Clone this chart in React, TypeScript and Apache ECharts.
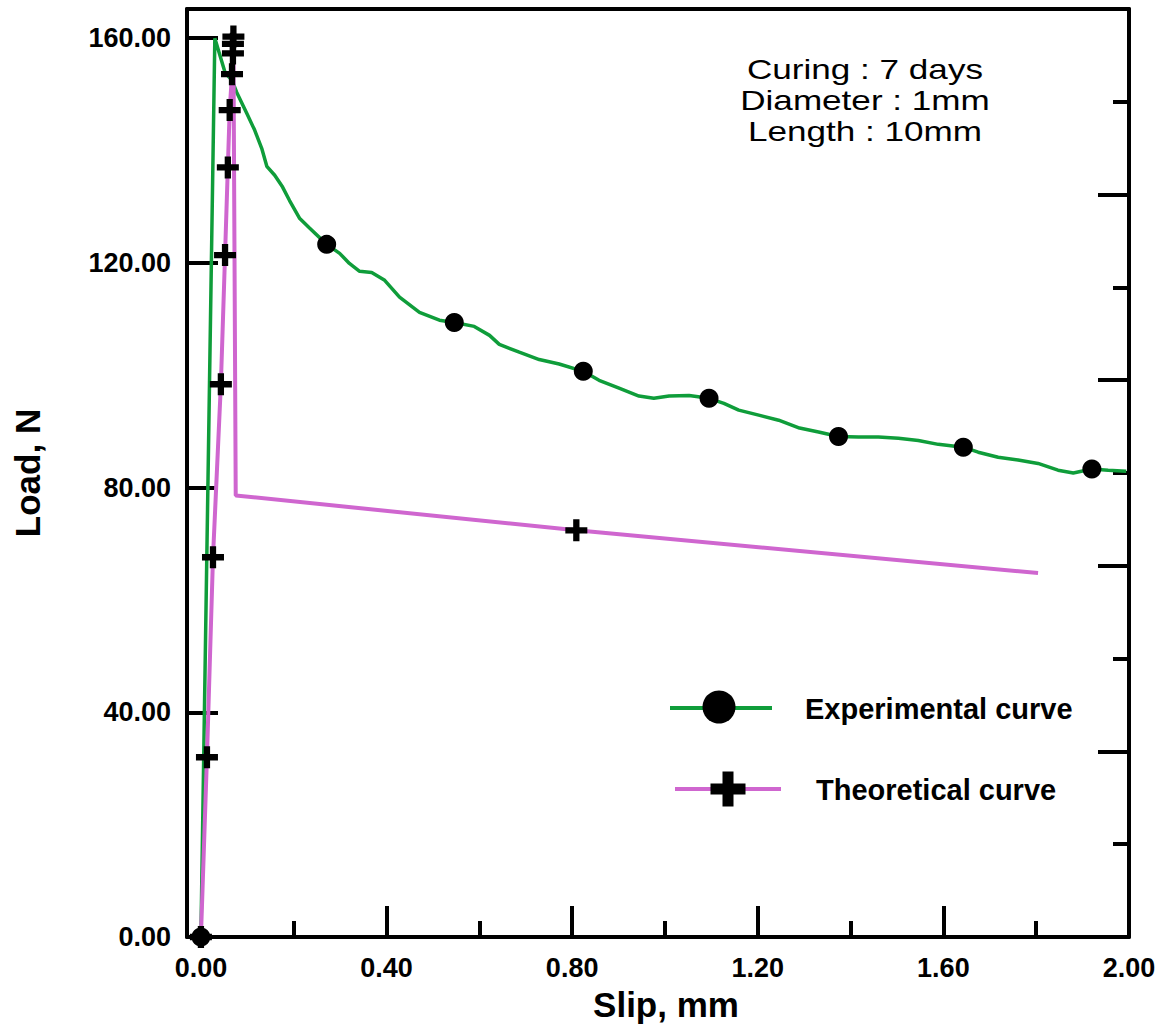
import React, { useEffect, useRef } from "react";
import * as echarts from "echarts";

// Experimental curve (slip mm, load N)
const expX = [0, 0.030, 0.052, 0.067, 0.077, 0.099, 0.116, 0.131, 0.142, 0.159, 0.176, 0.191, 0.213, 0.234, 0.271, 0.299, 0.320, 0.342, 0.368, 0.396, 0.428, 0.471, 0.514, 0.546, 0.589, 0.622, 0.643, 0.686, 0.729, 0.772, 0.824, 0.858, 0.901, 0.944, 0.976, 1.009, 1.052, 1.095, 1.127, 1.159, 1.202, 1.245, 1.290, 1.331, 1.374, 1.417, 1.460, 1.503, 1.546, 1.589, 1.643, 1.675, 1.718, 1.761, 1.804, 1.847, 1.880, 1.920, 1.955, 1.994];
const expY = [0, 160.0, 153.9, 152.5, 150.4, 146.6, 143.6, 140.4, 137.2, 135.6, 133.5, 131.1, 127.9, 126.2, 123.3, 121.7, 119.9, 118.5, 118.3, 116.9, 113.9, 111.2, 109.8, 109.4, 108.7, 107.1, 105.5, 104.1, 102.8, 102.0, 100.7, 99.1, 97.7, 96.3, 95.9, 96.3, 96.4, 95.9, 95.0, 93.8, 92.9, 92.0, 90.6, 89.9, 89.1, 89.0, 89.0, 88.8, 88.4, 87.7, 87.2, 86.3, 85.4, 84.9, 84.3, 83.1, 82.6, 83.3, 83.1, 82.9];
const expMarkX = [0, 0.271, 0.546, 0.824, 1.095, 1.374, 1.643, 1.920];
const expMarkY = [0, 123.3, 109.4, 100.7, 95.9, 89.1, 87.2, 83.3];

// Theoretical curve
const theoX = [0, 0.013, 0.026, 0.043, 0.052, 0.058, 0.062, 0.067, 0.069, 0.070, 0.075, 0.809, 1.804];
const theoY = [0, 32.0, 67.6, 98.4, 121.4, 137.0, 147.2, 153.6, 157.3, 160.0, 78.6, 72.4, 64.8];
const theoMarkX = [0, 0.013, 0.026, 0.043, 0.052, 0.058, 0.062, 0.067, 0.069, 0.069, 0.070, 0.809];
const theoMarkY = [0, 32.0, 67.6, 98.4, 121.4, 137.0, 147.2, 153.6, 157.3, 159.0, 160.3, 72.4];

const xLabelValues = [0, 0.4, 0.8, 1.2, 1.6, 2.0];
const xMajorTicks = [0.4, 0.8, 1.2, 1.6];
const xMinorTicks = [0.2, 0.6, 1.0, 1.4, 1.8];
const yLabelValues = [0, 40, 80, 120, 160];
const yMajorTicks = [40, 80, 120, 160];
const rightMajorTicks = [2, 4, 6, 8];
const rightMinorTicks = [1, 3, 5, 7, 9];

const annotation = ["Curing : 7 days", "Diameter : 1mm", "Length : 10mm"];
const seriesNames = ["Experimental curve", "Theoretical curve"];

const GREEN = "#0f9d3a";
const PINK = "#cf66cf";
const FONT = '"Liberation Sans", Arial, sans-serif';
const CROSS = "path://M-1,-3.5L1,-3.5L1,-1L3.5,-1L3.5,1L1,1L1,3.5L-1,3.5L-1,1L-3.5,1L-3.5,-1L-1,-1Z";

function crossPoints(cx: number, cy: number, h: number, t: number) {
  return [
    [cx - t, cy - h], [cx + t, cy - h], [cx + t, cy - t], [cx + h, cy - t],
    [cx + h, cy + t], [cx + t, cy + t], [cx + t, cy + h], [cx - t, cy + h],
    [cx - t, cy + t], [cx - h, cy + t], [cx - h, cy - t], [cx - t, cy - t],
  ];
}

export default function App() {
  const ref = useRef<HTMLDivElement>(null);
  useEffect(() => {
    document.body.style.margin = "0";
    const chart = echarts.init(ref.current!, null, { renderer: "svg" });
    const zip = (a: number[], b: number[]) => a.map((v, i) => [v, b[i]]);
    const axisLine = { show: true, onZero: false, lineStyle: { color: "#000", width: 4 } };
    const noLine = { show: false, onZero: false };
    const labelStyle = { color: "#000", fontSize: 27, fontWeight: "bold" as const, fontFamily: FONT };
    const tick = (len: number, vals: number[]) => ({
      show: true, inside: true, length: len, lineStyle: { color: "#000", width: 4 }, customValues: vals,
    });
    chart.setOption({
      animation: false,
      backgroundColor: "#fff",
      grid: { left: 187, top: 9, width: 942, height: 928 },
      xAxis: [
        {
          type: "value", min: -0.03, max: 2.0, position: "bottom",
          axisLine, splitLine: { show: false },
          axisTick: tick(31, xMajorTicks),
          axisLabel: { ...labelStyle, margin: 17, customValues: xLabelValues, formatter: (v: number) => v.toFixed(2) },
          name: "Slip, mm", nameLocation: "middle", nameGap: 50,
          nameTextStyle: { color: "#000", fontSize: 35, fontWeight: "bold", fontFamily: FONT, padding: [0, 0, 0, 16] },
        },
        {
          type: "value", min: -0.03, max: 2.0, position: "bottom",
          axisLine: noLine, splitLine: { show: false },
          axisTick: tick(16, xMinorTicks),
          axisLabel: { show: false },
        },
        {
          type: "value", min: -0.03, max: 2.0, position: "top",
          axisLine, splitLine: { show: false }, axisTick: { show: false }, axisLabel: { show: false },
        },
      ],
      yAxis: [
        {
          type: "value", min: 0, max: 165.2, position: "left",
          axisLine, splitLine: { show: false },
          axisTick: tick(31, yMajorTicks),
          axisLabel: { ...labelStyle, margin: 16, customValues: yLabelValues, formatter: (v: number) => v.toFixed(2) },
          name: "Load, N", nameLocation: "middle", nameGap: 142,
          nameTextStyle: { color: "#000", fontSize: 35, fontWeight: "bold", fontFamily: FONT },
        },
        {
          type: "value", min: 0, max: 10, position: "right",
          axisLine, splitLine: { show: false },
          axisTick: tick(31, rightMajorTicks),
          axisLabel: { show: false },
        },
        {
          type: "value", min: 0, max: 10, position: "right",
          axisLine: noLine, splitLine: { show: false },
          axisTick: tick(16, rightMinorTicks),
          axisLabel: { show: false },
        },
      ],
      series: [
        {
          name: seriesNames[0], type: "line", xAxisIndex: 0, yAxisIndex: 0,
          data: zip(expX, expY), showSymbol: false, symbol: "none",
          lineStyle: { color: GREEN, width: 3.5 }, z: 2,
        },
        {
          name: seriesNames[1], type: "line", xAxisIndex: 0, yAxisIndex: 0,
          data: zip(theoX, theoY), showSymbol: false, symbol: "none",
          lineStyle: { color: PINK, width: 4 }, z: 2,
        },
        {
          name: seriesNames[1] + " markers", type: "scatter", xAxisIndex: 0, yAxisIndex: 0,
          data: zip(theoMarkX, theoMarkY), symbol: CROSS, symbolSize: 22,
          itemStyle: { color: "#000", opacity: 1 }, z: 3,
        },
        {
          name: seriesNames[0] + " markers", type: "scatter", xAxisIndex: 0, yAxisIndex: 0,
          data: zip(expMarkX, expMarkY), symbol: "circle", symbolSize: 19,
          itemStyle: { color: "#000", opacity: 1 }, z: 4,
        },
      ],
      graphic: [
        {
          type: "text", x: 865, y: 101, scaleX: 1.3, z: 10,
          style: {
            text: annotation.join("\n"), fontSize: 27, fontFamily: FONT, fill: "#000",
            align: "center", verticalAlign: "middle", lineHeight: 31,
          },
        },
        { type: "line", z: 10, shape: { x1: 670, y1: 708, x2: 772, y2: 708 }, style: { stroke: GREEN, lineWidth: 4 } },
        { type: "circle", z: 11, shape: { cx: 719, cy: 707, r: 16.5 }, style: { fill: "#000" } },
        {
          type: "text", x: 805, y: 709, z: 10,
          style: { text: seriesNames[0], fontSize: 29, fontWeight: "bold", fontFamily: FONT, fill: "#000", align: "left", verticalAlign: "middle" },
        },
        { type: "line", z: 10, shape: { x1: 675, y1: 789, x2: 781, y2: 789 }, style: { stroke: PINK, lineWidth: 4 } },
        { type: "polygon", z: 11, shape: { points: crossPoints(728, 789, 17.5, 5.5) }, style: { fill: "#000" } },
        {
          type: "text", x: 816, y: 790, z: 10,
          style: { text: seriesNames[1], fontSize: 29, fontWeight: "bold", fontFamily: FONT, fill: "#000", align: "left", verticalAlign: "middle" },
        },
      ],
    });
    return () => chart.dispose();
  }, []);
  return <div ref={ref} style={{ width: 1170, height: 1032 }} />;
}
